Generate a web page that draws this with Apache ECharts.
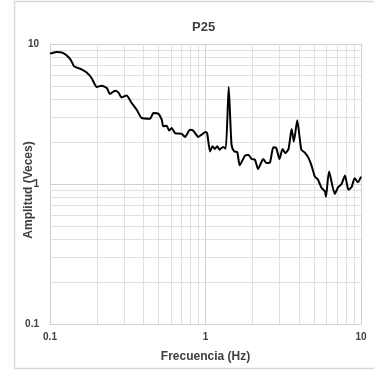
<!DOCTYPE html>
<html>
<head>
<meta charset="utf-8">
<script src="https://cdn.jsdelivr.net/npm/echarts@6/dist/echarts.min.js"></script>
<style>
    html, body { margin: 0; padding: 0; background: #fff; }
    #chart { width: 374px; height: 371px; }
</style>
</head>
<body>
<div id="chart"></div>
<script>
// frecuencia (Hz) y amplitud
var frecuencia = [0.100, 0.110, 0.122, 0.135, 0.143, 0.156, 0.172, 0.185, 0.200, 0.215, 0.232, 0.243, 0.262, 0.275, 0.289, 0.311,
    0.335, 0.361, 0.389, 0.440, 0.462, 0.497, 0.523, 0.535, 0.563, 0.583, 0.606, 0.637, 0.703, 0.738, 0.795, 0.835,
    0.900, 0.944, 1.000, 1.024, 1.070, 1.110, 1.147, 1.190, 1.230, 1.300, 1.350, 1.410, 1.470, 1.530, 1.600, 1.660,
    1.790, 1.880, 1.980, 2.080, 2.180, 2.350, 2.470, 2.600, 2.730, 2.850, 2.990, 3.130, 3.260, 3.420, 3.580, 3.700,
    3.890, 4.130, 4.340, 4.600, 4.800, 5.050, 5.300, 5.570, 5.860, 5.950, 6.230, 6.780, 7.130, 7.500, 7.890, 8.300,
    8.700, 9.100, 9.550, 10.00];
var amplitud = [8.53, 8.77, 8.62, 7.81, 6.92, 6.66, 6.26, 5.72, 4.93, 5.04, 4.85, 4.39, 4.64, 4.51, 4.15, 4.29,
    3.79, 3.39, 2.96, 2.93, 3.21, 3.18, 2.88, 2.58, 2.61, 2.41, 2.51, 2.31, 2.28, 2.17, 2.44, 2.40,
    2.17, 2.25, 2.35, 2.31, 1.71, 1.86, 1.78, 1.86, 1.76, 1.84, 1.79, 4.93, 1.91, 1.71, 1.69, 1.36,
    1.59, 1.62, 1.51, 1.49, 1.28, 1.51, 1.41, 1.43, 1.83, 1.81, 1.51, 1.78, 1.66, 1.78, 2.47, 2.01,
    2.85, 1.76, 1.68, 1.53, 1.36, 1.13, 1.07, 0.94, 0.885, 0.81, 1.23, 0.85, 0.95, 1.00, 1.15, 0.91,
    0.95, 1.10, 1.03, 1.13];
var xMinor = [0.2, 0.3, 0.4, 0.5, 0.6, 0.7, 0.8, 0.9, 2, 3, 4, 5, 6, 7, 8, 9];
var yMinor = [0.2, 0.3, 0.4, 0.5, 0.6, 0.7, 0.8, 0.9, 2, 3, 4, 5, 6, 7, 8, 9];

var chart = echarts.init(document.getElementById('chart'));

var minorLines = [];
xMinor.forEach(function (v) { minorLines.push({ xAxis: v }); });
yMinor.forEach(function (v) { minorLines.push({ yAxis: v }); });

var fontFam = 'Liberation Sans, Arial, sans-serif';

var option = {
    backgroundColor: '#fff',
    animation: false,
    title: {
        text: 'P25',
        left: 187,
        top: 16,
        textStyle: { fontSize: 13, fontWeight: 'bold', color: '#404040', fontFamily: fontFam }
    },
    graphic: [{
        type: 'rect',
        shape: { x: 14.5, y: 1.5, width: 400, height: 367 },
        style: { fill: 'none', stroke: '#d9d9d9', lineWidth: 1.5 },
        silent: true
    }],
    grid: { left: 50, right: 13, top: 44, bottom: 47 },
    xAxis: {
        type: 'log',
        logBase: 10,
        min: 0.1,
        max: 10,
        interval: 1,
        name: 'Frecuencia (Hz)',
        nameLocation: 'middle',
        nameGap: 27,
        nameMoveOverlap: false,
        nameTextStyle: { fontSize: 12, fontWeight: 'bold', color: '#404040', fontFamily: fontFam },
        axisLine: { show: true, lineStyle: { color: '#d0d0d0', width: 1 } },
        axisTick: { show: false },
        axisLabel: {
            fontSize: 10, fontWeight: 'bold', color: '#404040', fontFamily: fontFam, margin: 8,
            formatter: function (v) { return String(+v.toPrecision(3)); }
        },
        splitLine: { show: true, lineStyle: { color: '#d0d0d0', width: 1 } }
    },
    yAxis: {
        type: 'log',
        logBase: 10,
        min: 0.1,
        max: 10,
        interval: 1,
        name: 'Amplitud (Veces)',
        nameLocation: 'middle',
        nameGap: 15,
        nameMoveOverlap: false,
        nameTextStyle: {
            fontSize: 12, fontWeight: 'bold', color: '#404040', fontFamily: fontFam,
            padding: [0, 12, 0, 0]
        },
        axisLine: { show: true, lineStyle: { color: '#d0d0d0', width: 1 } },
        axisTick: { show: false },
        axisLabel: {
            fontSize: 10, fontWeight: 'bold', color: '#404040', fontFamily: fontFam, margin: 11,
            formatter: function (v) { return String(+v.toPrecision(3)); }
        },
        splitLine: { show: true, lineStyle: { color: '#d0d0d0', width: 1 } }
    },
    series: [{
        type: 'line',
        data: frecuencia.map(function (f, i) { return [f, amplitud[i]]; }),
        showSymbol: false,
        smooth: 0.2,
        lineStyle: { color: '#000', width: 2 },
        markLine: {
            silent: true,
            symbol: 'none',
            label: { show: false },
            lineStyle: { color: '#e0e0e0', width: 1, type: 'solid' },
            data: minorLines,
            z: 1
        },
        z: 5
    }]
};

chart.setOption(option);
window.addEventListener('resize', function () { chart.resize(); });
</script>
</body>
</html>
